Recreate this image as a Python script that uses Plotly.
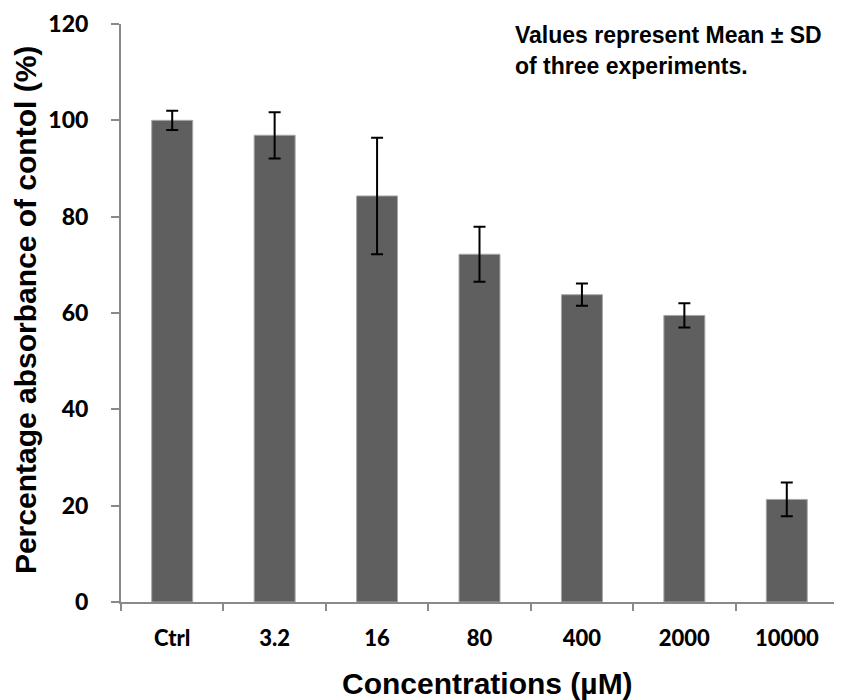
import plotly.graph_objects as go

categories = ["Ctrl", "3.2", "16", "80", "400", "2000", "10000"]
mean_values = [100.0, 96.9, 84.3, 72.2, 63.8, 59.5, 21.3]
sd_values = [2.0, 4.8, 12.1, 5.7, 2.3, 2.5, 3.5]
y_ticks = [0, 20, 40, 60, 80, 100, 120]

axis_color = "#898989"
label_font = "Lato, 'Open Sans', sans-serif"
title_font = "'Liberation Sans', Arial, sans-serif"

fig = go.Figure()
fig.add_trace(go.Bar(
    x=categories,
    y=mean_values,
    marker=dict(color="#5f5f5f", line=dict(color="#a8a8a8", width=1)),
    error_y=dict(type="data", array=sd_values, visible=True,
                 color="black", thickness=2, width=6),
    showlegend=False,
))

fig.update_layout(
    width=834, height=692,
    margin=dict(l=113, r=4, t=16, b=97.5),
    plot_bgcolor="white", paper_bgcolor="white",
    bargap=0.6,
    xaxis=dict(
        type="category", automargin=False,
        showline=True, linecolor=axis_color, linewidth=2,
        ticks="outside", tickson="boundaries", ticklen=7,
        tickcolor=axis_color, tickwidth=1.5,
        tickfont=dict(family=label_font, size=22, color="black", weight=900),
        ticklabelstandoff=16,
        showgrid=False, zeroline=False,
    ),
    yaxis=dict(
        range=[0, 120], tickvals=y_ticks, automargin=False,
        showline=True, linecolor=axis_color, linewidth=2,
        ticks="outside", ticklen=8, tickcolor=axis_color, tickwidth=1.5,
        tickfont=dict(family=label_font, size=23, color="black", weight=900),
        ticklabelstandoff=18,
        showgrid=False, zeroline=False,
    ),
    annotations=[
        dict(text="<b>Concentrations (µM)</b>",
             xref="paper", yref="paper", x=0.5105, y=-0.1409,
             xanchor="center", yanchor="middle", showarrow=False,
             font=dict(family=title_font, size=30, color="black")),
        dict(text="<b>Percentage absorbance of contol (%)</b>",
             xref="paper", yref="paper", x=-0.1339, y=0.505, textangle=-90,
             xanchor="center", yanchor="middle", showarrow=False,
             font=dict(family=title_font, size=30, color="black")),
        dict(text="<b>Values represent Mean ± SD</b>",
             xref="paper", yref="paper", x=0.547, y=(602.5 - 35) / 578.5,
             xanchor="left", yanchor="middle", align="left", showarrow=False,
             font=dict(family=title_font, size=23, color="black")),
        dict(text="<b>of three experiments.</b>",
             xref="paper", yref="paper", x=0.547, y=(602.5 - 66) / 578.5,
             xanchor="left", yanchor="middle", align="left", showarrow=False,
             font=dict(family=title_font, size=23, color="black")),
    ],
)

fig.write_html("out.html")
